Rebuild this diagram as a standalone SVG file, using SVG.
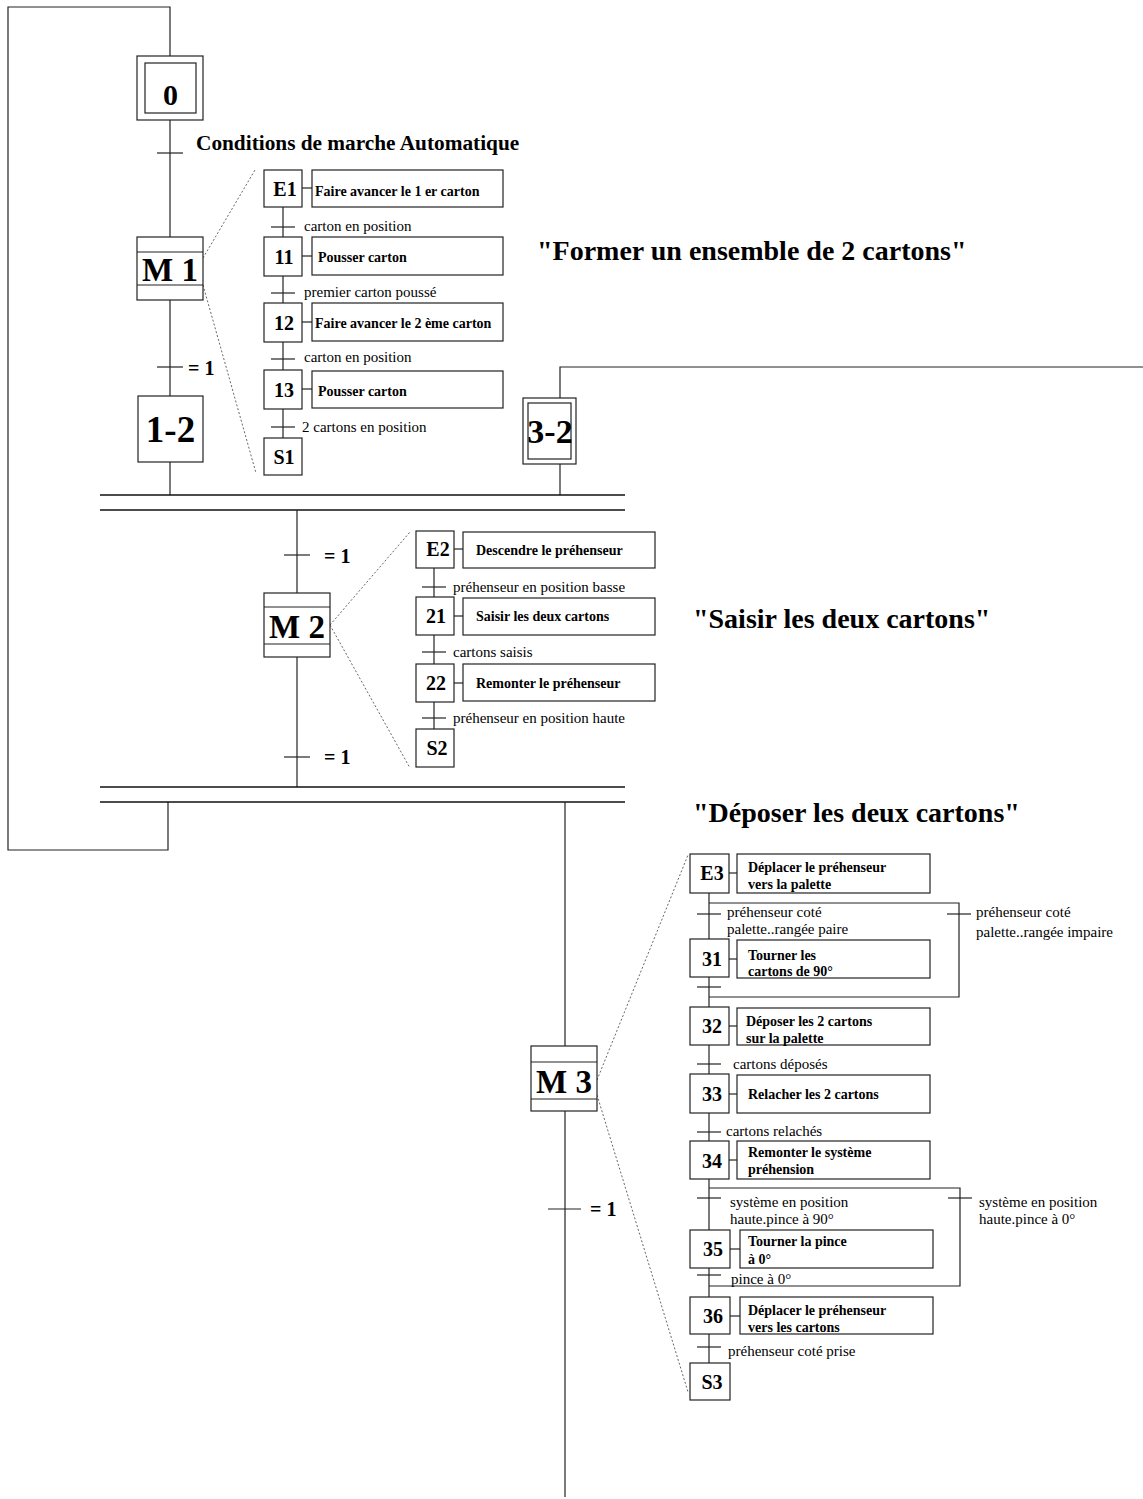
<svg xmlns="http://www.w3.org/2000/svg" width="1143" height="1499" viewBox="0 0 1143 1499">
<style>
.ln{stroke:#222;stroke-width:1.2;fill:none}
.bar{stroke:#111;stroke-width:1.6;fill:none}
.dot{stroke:#555;stroke-width:0.9;stroke-dasharray:2,2;fill:none}
.box{stroke:#222;stroke-width:1.2;fill:#fff}
.sn{font-family:"Liberation Serif",serif;font-weight:bold;font-size:20px;fill:#000;text-anchor:middle}
.big{font-family:"Liberation Serif",serif;font-weight:bold;font-size:33px;fill:#000;text-anchor:middle}
.act{font-family:"Liberation Serif",serif;font-weight:bold;font-size:14px;fill:#000}
.tr{font-family:"Liberation Serif",serif;font-size:15px;fill:#000}
.eq{font-family:"Liberation Serif",serif;font-weight:bold;font-size:20px;fill:#000}
.title{font-family:"Liberation Serif",serif;font-weight:bold;font-size:28px;fill:#000}
</style>

<g id="connectors">
  <polyline class="ln" points="168,802 168,850 8,850 8,7 170,7 170,56"/>
  <line class="ln" x1="170" y1="120" x2="170" y2="237"/>
  <line class="ln" x1="157" y1="153" x2="183" y2="153"/>
  <line class="ln" x1="170" y1="300" x2="170" y2="396"/>
  <line class="ln" x1="157" y1="367" x2="183" y2="367"/>
  <line class="ln" x1="170" y1="462" x2="170" y2="495"/>
  <polyline class="ln" points="1143,367 560,367 560,398"/>
  <line class="ln" x1="560" y1="464" x2="560" y2="495"/>
  <line class="bar" x1="100" y1="495" x2="625" y2="495"/>
  <line class="bar" x1="100" y1="510" x2="625" y2="510"/>
  <line class="ln" x1="297" y1="510" x2="297" y2="593"/>
  <line class="ln" x1="284" y1="555" x2="310" y2="555"/>
  <line class="ln" x1="297" y1="657" x2="297" y2="787"/>
  <line class="ln" x1="284" y1="757" x2="310" y2="757"/>
  <line class="bar" x1="100" y1="787" x2="625" y2="787"/>
  <line class="bar" x1="100" y1="802" x2="625" y2="802"/>
  <line class="ln" x1="565" y1="802" x2="565" y2="1046"/>
  <line class="ln" x1="565" y1="1111" x2="565" y2="1497"/>
  <line class="ln" x1="548" y1="1209" x2="581" y2="1209"/>

  <line class="dot" x1="203" y1="258" x2="255" y2="170"/>
  <line class="dot" x1="203" y1="285" x2="256" y2="473"/>
  <line class="ln" x1="283" y1="207" x2="283" y2="438"/>
  <line class="ln" x1="271" y1="227" x2="295" y2="227"/>
  <line class="ln" x1="271" y1="293" x2="295" y2="293"/>
  <line class="ln" x1="271" y1="359" x2="295" y2="359"/>
  <line class="ln" x1="271" y1="427" x2="295" y2="427"/>
  <line class="ln" x1="302" y1="188" x2="312" y2="188"/>
  <line class="ln" x1="302" y1="256" x2="312" y2="256"/>
  <line class="ln" x1="302" y1="322" x2="312" y2="322"/>
  <line class="ln" x1="302" y1="389" x2="312" y2="389"/>

  <line class="dot" x1="330" y1="625" x2="410" y2="532"/>
  <line class="dot" x1="330" y1="625" x2="410" y2="768"/>
  <line class="ln" x1="434" y1="568" x2="434" y2="729"/>
  <line class="ln" x1="422" y1="587" x2="446" y2="587"/>
  <line class="ln" x1="422" y1="652" x2="446" y2="652"/>
  <line class="ln" x1="422" y1="718" x2="446" y2="718"/>
  <line class="ln" x1="454" y1="549" x2="463" y2="549"/>
  <line class="ln" x1="454" y1="616" x2="463" y2="616"/>
  <line class="ln" x1="454" y1="683" x2="463" y2="683"/>

  <line class="dot" x1="597" y1="1080" x2="688" y2="855"/>
  <line class="dot" x1="597" y1="1095" x2="688" y2="1392"/>
  <line class="ln" x1="709" y1="893" x2="709" y2="1363"/>
  <polyline class="ln" points="709,903 959,903 959,997 709,997"/>
  <polyline class="ln" points="709,1188 960,1188 960,1286 709,1286"/>
  <line class="ln" x1="697" y1="914" x2="721" y2="914"/>
  <line class="ln" x1="947" y1="914" x2="971" y2="914"/>
  <line class="ln" x1="697" y1="987" x2="721" y2="987"/>
  <line class="ln" x1="697" y1="1064" x2="721" y2="1064"/>
  <line class="ln" x1="697" y1="1132" x2="721" y2="1132"/>
  <line class="ln" x1="697" y1="1198" x2="721" y2="1198"/>
  <line class="ln" x1="948" y1="1198" x2="972" y2="1198"/>
  <line class="ln" x1="697" y1="1275" x2="721" y2="1275"/>
  <line class="ln" x1="697" y1="1347" x2="721" y2="1347"/>
  <line class="ln" x1="729" y1="873" x2="737" y2="873"/>
  <line class="ln" x1="729" y1="959" x2="737" y2="959"/>
  <line class="ln" x1="729" y1="1026" x2="737" y2="1026"/>
  <line class="ln" x1="729" y1="1094" x2="737" y2="1094"/>
  <line class="ln" x1="729" y1="1160" x2="737" y2="1160"/>
  <line class="ln" x1="730" y1="1249" x2="740" y2="1249"/>
  <line class="ln" x1="730" y1="1316" x2="740" y2="1316"/>
</g>

<g id="step0">
  <rect class="box" x="137" y="56" width="66" height="64"/>
  <rect class="box" x="145" y="63" width="51" height="50"/>
  <text class="big" x="170.5" y="105" style="font-size:30px">0</text>
</g>
<text class="eq" x="196" y="150" style="font-size:21.3px">Conditions de marche Automatique</text>
<g id="M1">
  <rect class="box" x="137" y="237" width="66" height="63"/>
  <line class="ln" x1="137" y1="252" x2="203" y2="252"/>
  <line class="ln" x1="137" y1="285" x2="203" y2="285"/>
  <text class="big" x="170" y="281">M 1</text>
</g>
<text class="eq" x="188" y="375">= 1</text>
<g id="step1-2">
  <rect class="box" x="138" y="396" width="65" height="66"/>
  <text class="big" x="170.5" y="442" style="font-size:37px">1-2</text>
</g>
<g id="step3-2">
  <rect class="box" x="523" y="398" width="53" height="66"/>
  <rect class="box" x="528" y="403" width="43" height="56"/>
  <text class="big" x="550" y="443" style="font-size:34px">3-2</text>
</g>
<text class="title" x="537" y="260">"Former un ensemble de 2 cartons"</text>

<g id="E1"><rect class="box" x="264" y="170" width="38" height="37"/><text class="sn" x="285" y="196">E1</text></g>
<g id="A-E1"><rect class="box" x="312" y="170" width="191" height="37"/><text class="act" x="315" y="196">Faire avancer le 1 er carton</text></g>
<text class="tr" x="304" y="231">carton en position</text>
<g id="S11"><rect class="box" x="264" y="237" width="38" height="39"/><text class="sn" x="284" y="264">11</text></g>
<g id="A-11"><rect class="box" x="312" y="237" width="191" height="38"/><text class="act" x="318" y="262">Pousser carton</text></g>
<text class="tr" x="304" y="297">premier carton poussé</text>
<g id="S12"><rect class="box" x="264" y="303" width="38" height="39"/><text class="sn" x="284" y="330">12</text></g>
<g id="A-12"><rect class="box" x="312" y="303" width="191" height="38"/><text class="act" x="315" y="328">Faire avancer le 2 ème carton</text></g>
<text class="tr" x="304" y="362">carton en position</text>
<g id="S13"><rect class="box" x="264" y="370" width="38" height="39"/><text class="sn" x="284" y="397">13</text></g>
<g id="A-13"><rect class="box" x="312" y="371" width="191" height="37"/><text class="act" x="318" y="396">Pousser carton</text></g>
<text class="tr" x="302" y="432">2 cartons en position</text>
<g id="S1"><rect class="box" x="264" y="438" width="38" height="37"/><text class="sn" x="284" y="464">S1</text></g>

<text class="eq" x="324" y="563">= 1</text>
<g id="M2">
  <rect class="box" x="264" y="593" width="66" height="64"/>
  <line class="ln" x1="264" y1="607" x2="330" y2="607"/>
  <line class="ln" x1="264" y1="644" x2="330" y2="644"/>
  <text class="big" x="297" y="638">M 2</text>
</g>
<text class="eq" x="324" y="764">= 1</text>
<text class="title" x="693" y="628">"Saisir les deux cartons"</text>

<g id="E2"><rect class="box" x="416" y="531" width="38" height="37"/><text class="sn" x="438" y="556">E2</text></g>
<g id="A-E2"><rect class="box" x="463" y="532" width="192" height="36"/><text class="act" x="476" y="555">Descendre le préhenseur</text></g>
<text class="tr" x="453" y="592">préhenseur en position basse</text>
<g id="S21"><rect class="box" x="416" y="597" width="38" height="38"/><text class="sn" x="436" y="623">21</text></g>
<g id="A-21"><rect class="box" x="463" y="598" width="192" height="37"/><text class="act" x="476" y="621">Saisir les deux cartons</text></g>
<text class="tr" x="453" y="657">cartons saisis</text>
<g id="S22"><rect class="box" x="416" y="664" width="38" height="38"/><text class="sn" x="436" y="690">22</text></g>
<g id="A-22"><rect class="box" x="463" y="664" width="192" height="37"/><text class="act" x="476" y="688">Remonter le préhenseur</text></g>
<text class="tr" x="453" y="723">préhenseur en position haute</text>
<g id="S2"><rect class="box" x="416" y="729" width="38" height="38"/><text class="sn" x="437" y="755">S2</text></g>

<text class="title" x="693" y="822">"Déposer les deux cartons"</text>
<g id="M3">
  <rect class="box" x="531" y="1046" width="66" height="65"/>
  <line class="ln" x1="531" y1="1062" x2="597" y2="1062"/>
  <line class="ln" x1="531" y1="1099" x2="597" y2="1099"/>
  <text class="big" x="564" y="1093">M 3</text>
</g>
<text class="eq" x="590" y="1216">= 1</text>

<g id="E3"><rect class="box" x="690" y="854" width="39" height="39"/><text class="sn" x="712" y="880">E3</text></g>
<g id="A-E3"><rect class="box" x="737" y="854" width="193" height="39"/><text class="act" x="748" y="872">Déplacer le préhenseur</text><text class="act" x="748" y="889">vers la palette</text></g>
<text class="tr" x="727" y="917">préhenseur coté</text>
<text class="tr" x="727" y="934">palette..rangée paire</text>
<text class="tr" x="976" y="917">préhenseur coté</text>
<text class="tr" x="976" y="937">palette..rangée impaire</text>
<g id="S31"><rect class="box" x="690" y="939" width="39" height="38"/><text class="sn" x="712" y="966">31</text></g>
<g id="A-31"><rect class="box" x="737" y="940" width="193" height="38"/><text class="act" x="748" y="960">Tourner les</text><text class="act" x="748" y="976">cartons de 90°</text></g>
<g id="S32"><rect class="box" x="690" y="1007" width="39" height="38"/><text class="sn" x="712" y="1033">32</text></g>
<g id="A-32"><rect class="box" x="737" y="1008" width="193" height="37"/><text class="act" x="746" y="1026">Déposer  les 2 cartons</text><text class="act" x="746" y="1043">sur la palette</text></g>
<text class="tr" x="733" y="1069">cartons déposés</text>
<g id="S33"><rect class="box" x="690" y="1074" width="39" height="39"/><text class="sn" x="712" y="1101">33</text></g>
<g id="A-33"><rect class="box" x="737" y="1075" width="193" height="38"/><text class="act" x="748" y="1099">Relacher les 2 cartons</text></g>
<text class="tr" x="726" y="1136">cartons relachés</text>
<g id="S34"><rect class="box" x="690" y="1141" width="39" height="38"/><text class="sn" x="712" y="1168">34</text></g>
<g id="A-34"><rect class="box" x="737" y="1141" width="193" height="38"/><text class="act" x="748" y="1157">Remonter le système</text><text class="act" x="748" y="1174">préhension</text></g>
<text class="tr" x="730" y="1207">système en position</text>
<text class="tr" x="730" y="1224">haute.pince à 90°</text>
<text class="tr" x="979" y="1207">système en position</text>
<text class="tr" x="979" y="1224">haute.pince à 0°</text>
<g id="S35"><rect class="box" x="690" y="1230" width="40" height="38"/><text class="sn" x="713" y="1256">35</text></g>
<g id="A-35"><rect class="box" x="740" y="1230" width="193" height="38"/><text class="act" x="748" y="1246">Tourner la pince</text><text class="act" x="748" y="1264">à 0°</text></g>
<text class="tr" x="731" y="1284">pince à 0°</text>
<g id="S36"><rect class="box" x="690" y="1297" width="40" height="37"/><text class="sn" x="713" y="1323">36</text></g>
<g id="A-36"><rect class="box" x="740" y="1297" width="193" height="37"/><text class="act" x="748" y="1315">Déplacer le préhenseur</text><text class="act" x="748" y="1332">vers les cartons</text></g>
<text class="tr" x="728" y="1356">préhenseur coté prise</text>
<g id="S3"><rect class="box" x="690" y="1363" width="40" height="37"/><text class="sn" x="712" y="1389">S3</text></g>
</svg>
